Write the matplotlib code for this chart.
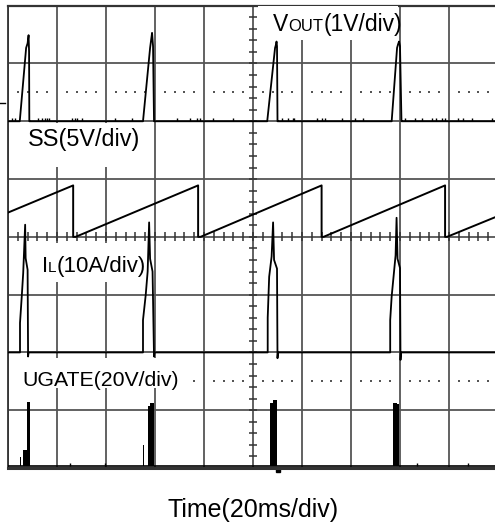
import matplotlib.pyplot as plt
import numpy as np
from matplotlib.patches import Rectangle
from matplotlib.offsetbox import TextArea, HPacker, AnnotationBbox

plt.rcParams['font.family'] = ['Liberation Sans', 'DejaVu Sans']

# scope graticule: 10 x 8 divisions, values in divisions
# VOUT trace (ch1), baseline at 6 div
vout_x = [0.0, 0.24, 0.37, 0.40, 0.42, 0.43, 0.435, 0.44,
          2.755, 2.90, 2.92, 2.94, 2.96, 2.98, 2.99,
          5.29, 5.45, 5.47, 5.48, 5.49, 5.50, 5.51,
          7.83, 7.94, 7.96, 7.98, 8.00, 8.03, 8.04, 10.0]
vout_y = [6.0, 6.0, 7.27, 7.35, 7.49, 7.20, 6.0, 6.0,
          6.0, 7.27, 7.40, 7.53, 7.30, 6.0, 6.0,
          6.0, 7.27, 7.33, 7.38, 7.30, 6.0, 6.0,
          6.0, 7.27, 7.33, 7.38, 7.30, 6.0, 6.0, 6.0]
vout_noise = [0.08, 0.14, 0.61, 0.69, 0.76, 0.80, 0.84, 1.31, 1.37, 1.41,
              1.51, 2.18, 2.53, 3.45, 3.71, 3.86, 3.92, 4.18, 4.59, 5.59,
              5.71, 5.81, 5.84, 6.30, 6.40, 6.47, 6.81, 7.08, 7.24, 8.10,
              8.31, 8.44, 8.65, 8.74, 8.85, 8.92, 9.18, 9.29, 9.46, 9.87]

# SS trace (soft start sawtooth)
ss_x = [0.0, 1.33, 1.33, 1.38, 3.88, 3.88, 3.93, 6.40, 6.40, 6.44,
        8.92, 8.92, 8.96, 10.0]
ss_y = [4.42, 4.89, 4.00, 4.00, 4.89, 4.00, 4.00, 4.89, 4.00, 4.00,
        4.89, 4.00, 4.00, 4.36]

# IL trace, baseline at 2 div
il_x = [0.0, 0.245, 0.245, 0.28, 0.31, 0.35, 0.36, 0.40, 0.41, 0.42,
        2.755, 2.755, 2.81, 2.85, 2.88, 2.90, 2.95, 2.98, 2.99,
        5.30, 5.30, 5.33, 5.38, 5.41, 5.43, 5.49, 5.50, 5.51,
        7.80, 7.80, 7.83, 7.91, 7.93, 7.95, 8.00, 8.01, 8.02, 10.0]
il_y = [2.0, 2.0, 2.51, 2.96, 3.37, 4.21, 3.63, 3.43, 1.93, 2.0,
        2.0, 2.56, 2.99, 3.40, 4.25, 3.62, 3.40, 1.93, 2.0,
        2.0, 2.60, 3.31, 3.66, 4.25, 3.60, 3.45, 1.90, 2.0,
        2.0, 2.56, 2.97, 3.68, 4.33, 3.62, 3.46, 1.87, 2.0, 2.0]

# UGATE pulses (bars) and baseline
ug_base = 0.04
ug_left = [0.245, 0.31, 0.38, 2.76, 2.86, 2.90, 5.35, 5.41, 7.86, 7.93]
ug_width = [0.012, 0.07, 0.06, 0.012, 0.04, 0.07, 0.06, 0.08, 0.07, 0.05]
ug_height = [0.15, 0.27, 1.10, 0.36, 1.03, 1.08, 1.08, 1.14, 1.08, 1.06]
ug_noise = [1.27, 1.98, 8.34, 9.39]

fig = plt.figure(figsize=(4.95, 5.25), dpi=100)
ax = fig.add_axes([8 / 495, 57 / 525, 490 / 495, 462.3 / 525])
ax.set_xlim(0, 10)
ax.set_ylim(0, 8)
ax.set_xticks(range(11))
ax.set_yticks(range(9))
ax.tick_params(length=0, labelbottom=False, labelleft=False)
ax.grid(True, color='#555555', lw=1.3, zorder=1)
ax.set_axisbelow(True)
for s in ['left', 'top', 'bottom', 'right']:
    ax.spines[s].set_color('#333333')
ax.spines['top'].set_linewidth(1.6)
ax.spines['bottom'].set_linewidth(2.2)
ax.spines['left'].set_linewidth(1.3)

# center crosshair minor ticks
mx = np.arange(0, 10.01, 0.2)
ax.vlines(mx, 4 - 0.08, 4 + 0.08, color='#333333', lw=1.1, zorder=2)
my = np.arange(0, 8.01, 0.2)
ax.hlines(my, 5 - 0.09, 5 + 0.09, color='#333333', lw=1.1, zorder=2)

# dotted reference lines
dx = np.array([k / 5 for k in range(50) if k % 5 != 0])
for yy in [6.5, 1.5]:
    ax.scatter(dx, np.full(len(dx), yy), marker='s', s=1.2, color='#555555',
               lw=0, zorder=2)

# traces
ax.plot(vout_x, vout_y, color='black', lw=1.3, zorder=3)
ax.vlines(vout_noise, 6.0, 6.06, color='black', lw=1.0, zorder=3)
ax.plot(ss_x, ss_y, color='black', lw=1.4, zorder=3)
ax.plot(il_x, il_y, color='black', lw=1.3, zorder=3)
ax.axhline(ug_base, color='black', lw=1.2, zorder=3)
ax.bar(ug_left, ug_height, width=ug_width, bottom=ug_base, align='edge',
       color='black', lw=0, zorder=3)
ax.vlines(ug_noise, ug_base, ug_base + 0.05, color='black', lw=1.0, zorder=3)
ax.plot([-0.16, -0.06], [6.31, 6.31], color='black', lw=1.0, clip_on=False)
ax.plot([5.5], [-0.04], marker='s', ms=2.5, color='black', clip_on=False)

# white label boxes
boxes = [(5.10, 7.40, 2.86, 0.60), (0.05, 5.21, 2.87, 0.76),
         (0.44, 3.22, 2.29, 0.68), (0.08, 1.38, 3.59, 0.52)]
for bx, by, bw, bh in boxes:
    ax.add_patch(Rectangle((bx, by), bw, bh, facecolor='white',
                           edgecolor='none', zorder=4))


def label(parts, x, y):
    areas = [TextArea(t, textprops=dict(fontsize=fs, color='black'))
             for t, fs in parts]
    pack = HPacker(children=areas, align='baseline', pad=0, sep=0)
    ab = AnnotationBbox(pack, (x, y), xycoords='data', box_alignment=(0, 0),
                        frameon=False, pad=0, zorder=5)
    ax.add_artist(ab)


label([('V', 16.5), ('OUT', 12), ('(1V/div)', 16.5)], 5.41, 7.47)
label([('SS(5V/div)', 16.8)], 0.41, 5.48)
label([('I', 16), ('L', 11), ('(10A/div)', 16)], 0.69, 3.30)
label([('UGATE(20V/div)', 15.3)], 0.29, 1.35)

fig.text(253.5 / 495, 15 / 525, 'Time(20ms/div)', fontsize=18,
         ha='center', va='center')

fig.savefig('out.png', dpi=100)
